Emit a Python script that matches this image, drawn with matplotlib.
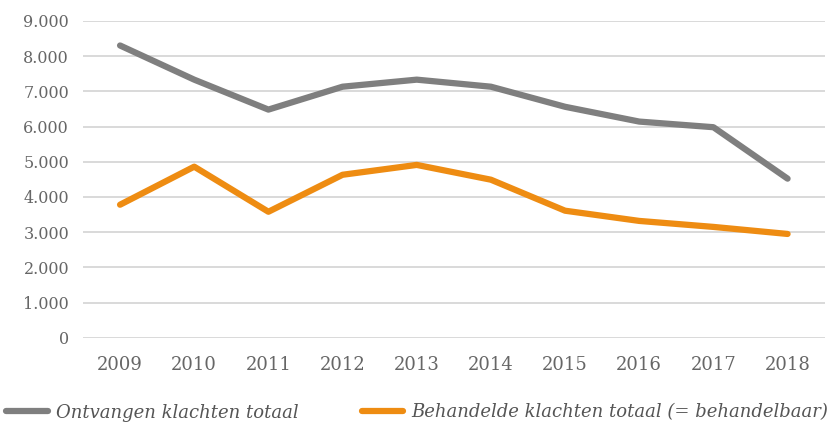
import matplotlib.pyplot as plt
from matplotlib.ticker import FuncFormatter

jaren = ["2009", "2010", "2011", "2012", "2013", "2014", "2015", "2016", "2017", "2018"]
ontvangen = [8300, 7330, 6480, 7130, 7330, 7130, 6560, 6140, 5980, 4520]
behandeld = [3780, 4860, 3580, 4630, 4910, 4490, 3610, 3320, 3150, 2950]

plt.rcParams['font.family'] = ['DejaVu Serif']

fig = plt.figure(figsize=(8.33, 4.25), dpi=100)
ax = fig.add_axes([0.0996, 0.205, 0.8904, 0.746])

x = list(range(len(jaren)))
ax.plot(x, ontvangen, color='#7f7f7f', lw=4.5, solid_capstyle='round', label='Ontvangen klachten totaal')
ax.plot(x, behandeld, color='#ee8c12', lw=4.5, solid_capstyle='round', label='Behandelde klachten totaal (= behandelbaar)')

ax.set_xlim(-0.5, len(jaren) - 0.5)
ax.set_ylim(0, 9000)
ax.set_yticks(range(0, 9001, 1000))
ax.yaxis.set_major_formatter(FuncFormatter(lambda v, p: f"{int(v):,}".replace(",", ".")))
ax.set_xticks(x)
ax.set_xticklabels(jaren)
ax.grid(axis='y', color='#d3d3d3', lw=1.2)
ax.set_axisbelow(True)
for s in ax.spines.values():
    s.set_visible(False)
ax.tick_params(length=0, colors='#666666')
ax.tick_params(axis='x', pad=13, labelsize=13)
ax.tick_params(axis='y', pad=10, labelsize=11.5)

leg = fig.legend(loc='lower left', bbox_to_anchor=(-0.012, -0.03), ncol=2, frameon=False,
                 prop={'style': 'italic', 'size': 13}, handlelength=2.3, columnspacing=3.5,
                 handletextpad=0.45)
for t in leg.get_texts():
    t.set_color('#555555')

fig.savefig('out.png', dpi=100)
